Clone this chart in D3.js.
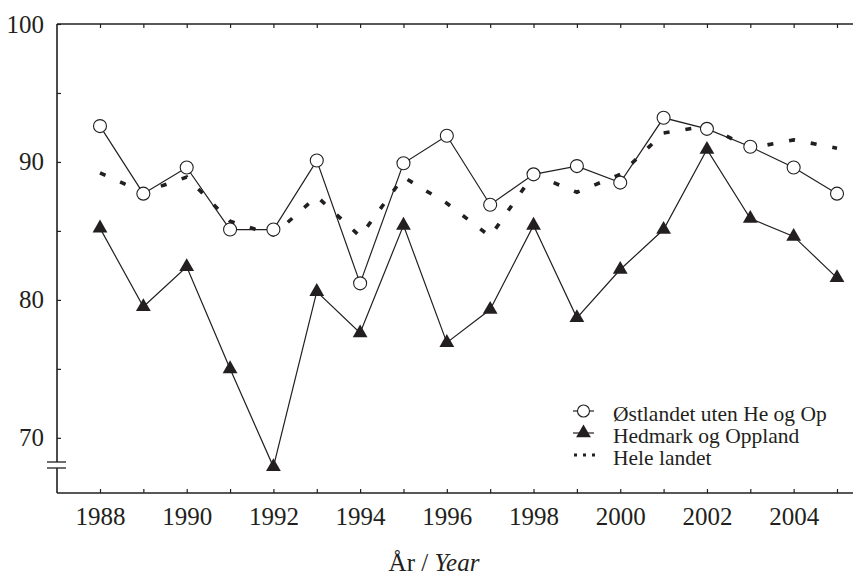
<!DOCTYPE html>
<html>
<head>
<meta charset="utf-8">
<script src="https://cdn.jsdelivr.net/npm/d3@7"></script>
<style>
  body { margin: 0; background: #fff; }
</style>
</head>
<body>
<div id="chart"></div>
<script>
// years on the x axis
const years = d3.range(1988, 2006);
const xTickLabels = [1988, 1990, 1992, 1994, 1996, 1998, 2000, 2002, 2004];
const yTickLabels = [70, 80, 90, 100];
const yMinorTicks = [75, 85, 95];

const ostlandet = [92.6, 87.7, 89.6, 85.1, 85.1, 90.1, 81.2, 89.9, 91.9, 86.9,
                   89.1, 89.7, 88.5, 93.2, 92.4, 91.1, 89.6, 87.7];
const hedmark = [85.2, 79.5, 82.4, 75.0, 67.9, 80.6, 77.6, 85.4, 76.9, 79.3,
                 85.4, 78.7, 82.2, 85.1, 90.9, 85.9, 84.6, 81.6];
const heleLandet = [89.2, 87.8, 88.9, 85.7, 84.7, 87.5, 84.6, 88.9, 87.0, 84.6,
                    89.1, 87.8, 89.1, 92.1, 92.6, 91.0, 91.6, 91.0];

const seriesNames = ["Østlandet uten He og Op", "Hedmark og Oppland", "Hele landet"];

const ink = "#231f20";
const serif = "'Liberation Serif', 'Times New Roman', Times, 'DejaVu Serif', serif";
const width = 853, height = 576;
const frame = {left: 57, right: 853, top: 24, bottom: 493};

const svg = d3.select("#chart").append("svg")
    .attr("width", width)
    .attr("height", height)
    .attr("font-family", serif);

const x = d3.scaleLinear().domain([1988, 2005]).range([100, 837]);
const y = d3.scaleLinear().domain([66, 100]).range([frame.bottom, frame.top]);

// bottom axis, ticks pointing inward
const xAxis = svg.append("g")
    .attr("transform", "translate(0," + frame.bottom + ")")
    .call(d3.axisBottom(x).tickValues(years).tickSize(-4).tickPadding(14)
        .tickFormat(d => xTickLabels.includes(d) ? d : ""));
xAxis.select(".domain").remove();

// top axis, ticks only
const xTop = svg.append("g")
    .attr("transform", "translate(0," + frame.top + ")")
    .call(d3.axisTop(x).tickValues(years).tickSize(-4).tickFormat(""));
xTop.select(".domain").remove();

// left axis
const yAxis = svg.append("g")
    .attr("transform", "translate(" + frame.left + ",0)")
    .call(d3.axisLeft(y).tickValues(yTickLabels.concat(yMinorTicks)).tickSize(-4).tickPadding(13)
        .tickFormat(d => yTickLabels.includes(d) ? d : ""));
yAxis.select(".domain").remove();

svg.selectAll(".tick text")
    .attr("font-family", serif)
    .attr("font-size", 25)
    .attr("fill", ink);
svg.selectAll(".tick line").attr("stroke", ink).attr("stroke-width", 1.2);

// frame lines
function frameLine(x1, y1, x2, y2) {
    return svg.append("line")
        .attr("x1", x1).attr("y1", y1).attr("x2", x2).attr("y2", y2)
        .attr("stroke", ink).attr("stroke-width", 1.6);
}
frameLine(frame.left, frame.top, frame.right, frame.top);
frameLine(frame.left, frame.bottom, frame.right, frame.bottom);
frameLine(frame.left, frame.top, frame.left, 462);
frameLine(frame.left, 468, frame.left, frame.bottom);
// axis break marks
frameLine(47, 462, 66, 462).attr("stroke-width", 1.3);
frameLine(47, 468, 66, 468).attr("stroke-width", 1.3);

const line = d3.line().x((d, i) => x(years[i])).y(d => y(d));

// Hele landet, dashed
svg.append("path")
    .datum(heleLandet)
    .attr("d", line)
    .attr("fill", "none")
    .attr("stroke", ink)
    .attr("stroke-width", 3.6)
    .attr("stroke-dasharray", "6,16");

// Hedmark og Oppland
svg.append("path")
    .datum(hedmark)
    .attr("d", line)
    .attr("fill", "none")
    .attr("stroke", ink)
    .attr("stroke-width", 1.2);

// Østlandet
svg.append("path")
    .datum(ostlandet)
    .attr("d", line)
    .attr("fill", "none")
    .attr("stroke", ink)
    .attr("stroke-width", 1.2);

const tri = d3.symbol().type(d3.symbolTriangle).size(95);

svg.selectAll(".tri")
    .data(hedmark)
    .enter().append("path")
    .attr("class", "tri")
    .attr("d", tri)
    .attr("transform", (d, i) => "translate(" + x(years[i]) + "," + y(d) + ")")
    .attr("fill", ink);

svg.selectAll(".circ")
    .data(ostlandet)
    .enter().append("circle")
    .attr("class", "circ")
    .attr("cx", (d, i) => x(years[i]))
    .attr("cy", d => y(d))
    .attr("r", 6.5)
    .attr("fill", "#fff")
    .attr("stroke", ink)
    .attr("stroke-width", 1.1);

// legend
const legend = svg.append("g");
const rowY = [411, 433, 455];
seriesNames.forEach((name, i) => {
    const g = legend.append("g").attr("transform", "translate(0," + rowY[i] + ")");
    if (i < 2) {
        g.append("line").attr("x1", 573).attr("x2", 594).attr("stroke", ink).attr("stroke-width", 1.2);
    } else {
        g.append("line").attr("x1", 574).attr("x2", 596).attr("stroke", ink)
            .attr("stroke-width", 3).attr("stroke-dasharray", "3,6");
    }
    if (i === 0) {
        g.append("circle").attr("cx", 583.5).attr("r", 6).attr("fill", "#fff")
            .attr("stroke", ink).attr("stroke-width", 1.1);
    } else if (i === 1) {
        g.append("path").attr("d", tri).attr("transform", "translate(583.5,0)").attr("fill", ink);
    }
    g.append("text").attr("x", 613).attr("y", 10).attr("font-size", 21.5)
        .attr("fill", ink).text(name);
});

// x axis title
const title = svg.append("text")
    .attr("x", 434)
    .attr("y", 571)
    .attr("text-anchor", "middle")
    .attr("font-size", 25)
    .attr("fill", ink);
title.append("tspan").text("År / ");
title.append("tspan").attr("font-style", "italic").text("Year");
</script>
</body>
</html>
